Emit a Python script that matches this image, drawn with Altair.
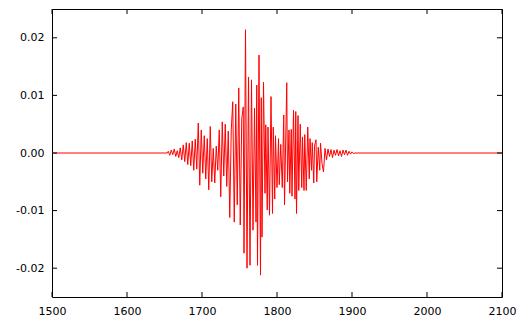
import altair as alt
import pandas as pd

xs = [1500, 1654,
      1655, 1657, 1659, 1661, 1663, 1665, 1667, 1669, 1671, 1673, 1675, 1677, 1679, 1681,
      1683, 1685, 1687, 1689, 1691, 1693, 1695, 1697, 1699, 1701, 1703, 1705, 1707, 1709,
      1711, 1713, 1715, 1717, 1719, 1721, 1723, 1725, 1727, 1729, 1731, 1733, 1735, 1737,
      1739, 1741, 1743, 1745, 1747, 1749, 1751, 1753, 1755, 1756, 1758, 1760, 1762, 1764,
      1766, 1768, 1770, 1772, 1773, 1774, 1776, 1778, 1779, 1780, 1782, 1784, 1785, 1787,
      1788, 1790, 1792, 1794, 1795, 1797, 1798, 1800, 1802, 1803, 1805, 1807, 1809, 1810,
      1813, 1814, 1816, 1817, 1819, 1820, 1822, 1824, 1825, 1826, 1828, 1829, 1831, 1833,
      1834, 1836, 1837, 1839, 1841, 1843, 1844, 1846, 1847, 1849, 1850, 1852, 1853, 1855,
      1857, 1858, 1860, 1862, 1864, 1866, 1868, 1870, 1872, 1874, 1876, 1878, 1880, 1882,
      1884, 1886, 1888, 1890, 1892, 1894, 1896, 1898, 1900, 1902, 1904, 2100]

ys = [0.0, 0.0,
      0.0003, -0.0004, 0.0005, -0.0003, 0.0007, -0.0006, 0.0004, -0.0008, 0.0009, -0.0012, 0.0014, -0.0015, 0.0018, -0.0020,
      0.0017, -0.0022, 0.0021, -0.0030, 0.0024, -0.0028, 0.0052, -0.0056, 0.0040, -0.0035, 0.0030, -0.0045, 0.0025, -0.0064,
      0.0046, -0.0050, 0.0008, -0.0052, 0.0012, -0.0030, 0.0040, -0.0076, 0.0054, -0.0040, 0.0050, -0.0058, 0.0038, -0.0112,
      0.0040, 0.0089, -0.0120, 0.0085, -0.0090, 0.0113, -0.0125, 0.0060, 0.0080, -0.0174, 0.0214, -0.0200, 0.0132, -0.0195,
      0.0127, -0.0134, 0.0078, -0.0120, 0.0118, -0.0195, 0.0170, -0.0212, 0.0096, -0.0146, 0.0123, -0.0070, 0.0049, -0.0099,
      0.0045, -0.0108, 0.0098, -0.0105, 0.0045, -0.0080, 0.0030, -0.0060, 0.0025, -0.0055, 0.0015, -0.0060, 0.0066, -0.0090,
      0.0122, -0.0050, 0.0040, -0.0070, 0.0041, -0.0075, 0.0074, -0.0080, 0.0072, -0.0105, 0.0065, -0.0065, 0.0050, -0.0060,
      0.0028, -0.0065, 0.0032, -0.0065, 0.0045, -0.0045, 0.0025, -0.0030, 0.0018, -0.0052, 0.0012, 0.0023, -0.0050, 0.0010,
      -0.0030, 0.0017, -0.0018, -0.0033, 0.0008, -0.0012, 0.0007, -0.0006, 0.0006, -0.0008, 0.0005, -0.0004, 0.0006, -0.0005,
      0.0004, -0.0006, 0.0005, -0.0003, 0.0005, -0.0004, 0.0003, -0.0002, 0.0002, -0.0001, 0.0, 0.0]

x_ticks = [1500, 1600, 1700, 1800, 1900, 2000, 2100]
y_ticks = [-0.02, -0.01, 0.0, 0.01, 0.02]

W, H = 450, 288
TICK = 5

df = pd.DataFrame({"x": xs, "y": ys})
df_xt = pd.DataFrame({"x": x_ticks})
df_yt = pd.DataFrame({"y": y_ticks})

xscale = alt.Scale(domain=[1500, 2100], nice=False, zero=False)
yscale = alt.Scale(domain=[-0.025, 0.025], nice=False, zero=False)

ylab = "datum.value < 0 ? '-' + format(-datum.value, '.2f') : format(abs(datum.value), '.2f')"

line = alt.Chart(df).mark_line(color="#ff0000", strokeWidth=1, clip=True).encode(
    x=alt.X("x:Q", scale=xscale, axis=alt.Axis(orient="bottom", values=x_ticks, format="d", title=None,
                                                ticks=False, tickSize=0, labelPadding=8, domain=False,
                                                grid=False, labelFlush=False, labelOverlap=False)),
    y=alt.Y("y:Q", scale=yscale, axis=alt.Axis(orient="left", values=y_ticks, labelExpr=ylab, title=None,
                                                ticks=False, tickSize=0, labelPadding=8, domain=False,
                                                grid=False, labelFlush=False, labelOverlap=False)),
)

tick_style = dict(color="black", strokeWidth=1)

xt_bottom = alt.Chart(df_xt).mark_rule(**tick_style).encode(
    x=alt.X("x:Q", scale=xscale), y=alt.value(H - TICK), y2=alt.value(H))
xt_top = alt.Chart(df_xt).mark_rule(**tick_style).encode(
    x=alt.X("x:Q", scale=xscale), y=alt.value(0), y2=alt.value(TICK))
yt_left = alt.Chart(df_yt).mark_rule(**tick_style).encode(
    y=alt.Y("y:Q", scale=yscale), x=alt.value(0), x2=alt.value(TICK))
yt_right = alt.Chart(df_yt).mark_rule(**tick_style).encode(
    y=alt.Y("y:Q", scale=yscale), x=alt.value(W - TICK), x2=alt.value(W))

chart = alt.layer(line, xt_bottom, xt_top, yt_left, yt_right).properties(
    width=W, height=H,
    padding={"left": 44, "top": 1, "right": 15, "bottom": 25},
    autosize=alt.AutoSizeParams(type="none"),
).configure_view(stroke="black", strokeWidth=1).configure_axis(
    labelFont="DejaVu Sans", labelFontSize=11, labelColor="black"
)

chart.save("out.html", embed_options={"renderer": "svg", "actions": False})
